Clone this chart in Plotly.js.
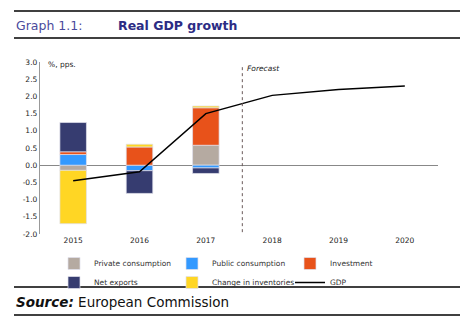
<!DOCTYPE html>
<html><head><meta charset="utf-8">
<script src="https://cdn.plot.ly/plotly-3.0.1.min.js"></script>
<style>html,body{margin:0;padding:0;background:#fff;}#chart{width:470px;height:334px;}</style>
</head><body><div id="chart"></div>
<script>
const years = ['2015','2016','2017','2018','2019','2020'];
const barYears = ['2015','2016','2017'];
const privateConsumption = [-0.15, 0.0, 0.58];
const publicConsumption = [0.31, -0.16, -0.08];
const investment = [0.08, 0.53, 1.09];
const netExports = [0.85, -0.66, -0.16];
const inventories = [-1.55, 0.08, 0.05];
const gdp = [-0.45, -0.19, 1.50, 2.03, 2.20, 2.30];
const yTicks = [3.0, 2.5, 2.0, 1.5, 1.0, 0.5, 0.0, -0.5, -1.0, -1.5, -2.0];
const forecastX = 2.55;

const FONT = 'DejaVu Sans, sans-serif';
const barLine = {color: 'rgba(225,225,235,0.9)', width: 0.8};
function barTrace(name, vals, color) {
  return {type: 'bar', name: name, x: barYears, y: vals,
    marker: {color: color, line: barLine}, hoverinfo: 'skip'};
}
const traces = [
  barTrace('Private consumption', privateConsumption, '#b5aaa1'),
  barTrace('Public consumption', publicConsumption, '#3399ff'),
  barTrace('Investment', investment, '#e8521a'),
  barTrace('Net exports', netExports, '#363c70'),
  barTrace('Change in inventories', inventories, '#ffd624'),
  {type: 'scatter', mode: 'lines', name: 'GDP', x: years, y: gdp,
   line: {color: '#000', width: 1.5}, hoverinfo: 'skip'}
];

const W = 398, H = 172;
function px(xp) { return (xp - 40) / W; }
function py(yp) { return (234 - yp) / H; }

const layout = {
  width: 470, height: 334,
  margin: {l: 40, r: 32, t: 62, b: 100},
  paper_bgcolor: '#fff', plot_bgcolor: '#fff',
  barmode: 'relative', bargap: 0.6,
  font: {family: FONT, size: 8, color: '#222'},
  showlegend: true,
  xaxis: {type: 'category', categoryorder: 'array', categoryarray: years,
    range: [-0.5, 5.5], showgrid: false, showline: false, zeroline: false,
    ticks: '', tickfont: {family: FONT, size: 7.5, color: '#222'}, fixedrange: true},
  yaxis: {range: [-2, 3], tickvals: yTicks, ticktext: yTicks.map(v => v.toFixed(1)),
    showgrid: false, zeroline: true, zerolinecolor: '#888', zerolinewidth: 1.2,
    showline: true, linecolor: '#999', linewidth: 1.2, ticks: '',
    tickfont: {family: FONT, size: 7.5, color: '#222'}, fixedrange: true},
  legend: {orientation: 'h', x: px(54), y: py(249), xanchor: 'left', yanchor: 'top',
    entrywidth: 73, entrywidthmode: 'pixels', itemwidth: 30,
    font: {family: FONT, size: 7.5, color: '#333'}, bgcolor: 'rgba(0,0,0,0)',
    traceorder: 'normal', tracegroupgap: 0},
  shapes: [
    {type: 'line', xref: 'paper', yref: 'paper', x0: px(14), x1: px(460), y0: py(11), y1: py(11), line: {color: '#000', width: 1.3}},
    {type: 'line', xref: 'paper', yref: 'paper', x0: px(14), x1: px(460), y0: py(38), y1: py(38), line: {color: '#000', width: 1.3}},
    {type: 'line', xref: 'paper', yref: 'paper', x0: px(14), x1: px(460), y0: py(287), y1: py(287), line: {color: '#000', width: 1.3}},
    {type: 'line', xref: 'paper', yref: 'paper', x0: px(14), x1: px(460), y0: py(315), y1: py(315), line: {color: '#000', width: 1.3}},
    {type: 'line', xref: 'x', yref: 'y', x0: forecastX, x1: forecastX, y0: 2.85, y1: -2.0, line: {color: '#6a5a5a', width: 1, dash: 'dot'}}
  ],
  annotations: [
    {xref: 'paper', yref: 'paper', x: px(14), y: py(25), xanchor: 'left', yanchor: 'middle', showarrow: false,
     text: 'Graph 1.1:', font: {family: FONT, size: 12.5, color: '#4a4a9c'}},
    {xref: 'paper', yref: 'paper', x: px(116), y: py(25), xanchor: 'left', yanchor: 'middle', showarrow: false,
     text: '<b>Real GDP growth</b>', font: {family: FONT, size: 12.5, color: '#2c2c84'}},
    {xref: 'paper', yref: 'paper', x: px(14), y: py(302), xanchor: 'left', yanchor: 'middle', showarrow: false,
     text: '<b><i>Source:</i></b> European Commission', font: {family: FONT, size: 13.5, color: '#111'}},
    {xref: 'paper', yref: 'paper', x: px(46), y: py(64), xanchor: 'left', yanchor: 'middle', showarrow: false,
     text: '%, pps.', font: {family: FONT, size: 7.5, color: '#222'}},
    {xref: 'x', yref: 'y', x: forecastX, y: 2.8, xanchor: 'left', yanchor: 'middle', xshift: 3, showarrow: false,
     text: '<i>Forecast</i>', font: {family: FONT, size: 7.5, color: '#222'}}
  ]
};
Plotly.newPlot('chart', traces, layout, {staticPlot: true, displayModeBar: false});
</script></body></html>
